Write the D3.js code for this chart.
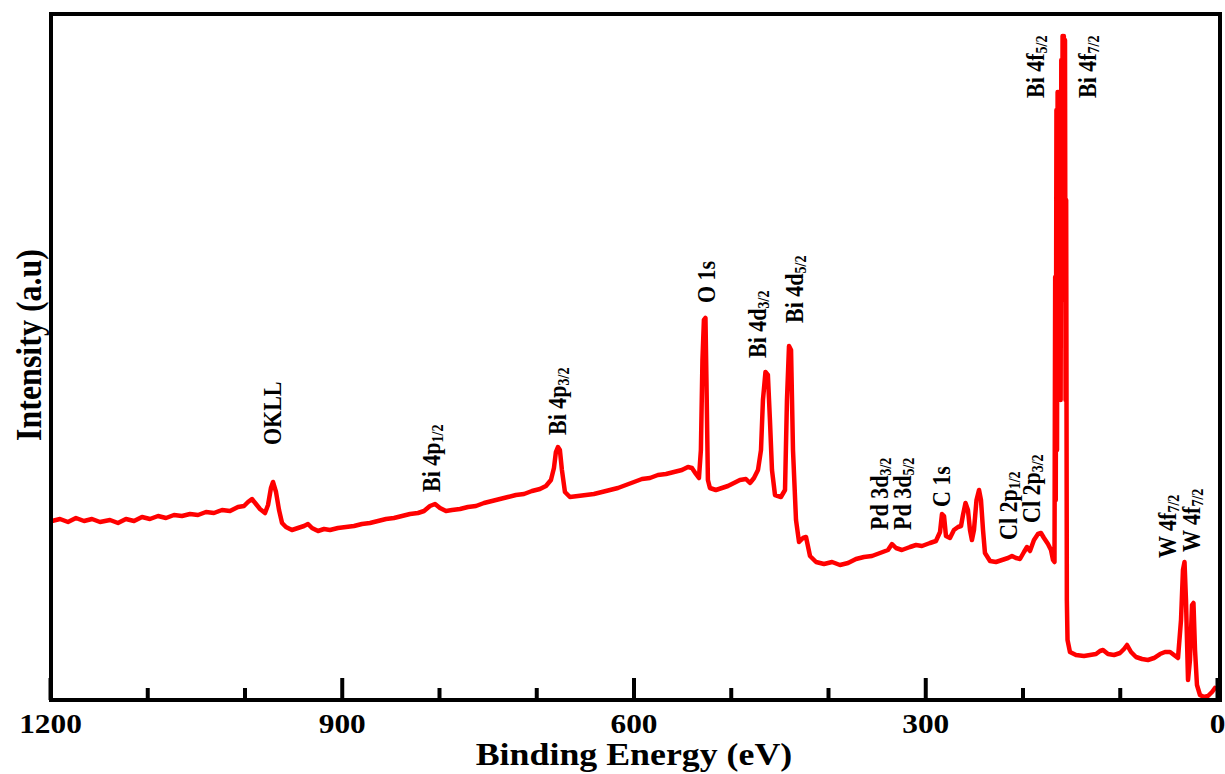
<!DOCTYPE html>
<html><head><meta charset="utf-8">
<script src="https://cdn.jsdelivr.net/npm/d3@7"></script>
<style>body{margin:0;background:#fff}</style>
</head><body><svg id="chart" width="1225" height="774"></svg>
<script>
// Binding energy (eV) and intensity (a.u.)
const bindingEnergy = [1198,1189.7,1181.5,1173.3,1165,1156.8,1148.6,1138.3,1130.1,1121.9,
1113.6,1105.4,1097.2,1088.9,1080.7,1072.5,1064.3,1056,1047.8,1039.6,
1031.4,1023.1,1014.9,1006.7,1000.5,996.4,992.3,988.2,984.1,978.9,
975.8,972.8,970.7,967.6,964.5,961.4,957.4,951.2,945,938.8,
934.7,930.6,924.4,918.2,912.1,903.9,895.6,887.4,879.2,871,
862.7,854.5,846.3,838,829.8,821.6,815.4,809.3,804.1,799,
792.8,786.6,778.4,770.2,762,753.7,745.5,737.3,729.1,720.9,
712.6,704.4,696.2,690,684.9,681.8,679.8,677.7,675.7,673.6,
670.5,665.4,657.1,648.9,640.7,632.4,624.2,616,607.8,599.5,
591.3,583.1,574.9,566.6,558.4,550.2,544,539.9,535.8,532.7,
530.7,529.1,527.6,526,525,523.5,521.4,515.3,509.1,502.9,
496.7,490.6,484.4,480.2,476.1,472,468.9,466.9,464.3,461.8,
459.7,457.6,454.5,448.4,444.2,442.2,440.1,438,436,432.9,
429.8,425.7,422.6,418.5,412.3,404.1,395.8,387.7,379.4,371.2,
363,354.8,346.5,338.3,334.2,330.1,324,315.7,309.5,303.4,
295.1,289,284.8,282.8,280.7,278.7,274.6,270.5,266.3,263.2,
261.2,258.6,256.1,254,252,249.9,247.3,244.7,242.7,240.6,
238.6,233.4,227.3,221.1,214.9,210.8,206.7,202.6,198.5,195.4,
192.3,188.2,184.1,181,177.9,173.8,170.7,168.6,167.1,
166.4,165.8,165.1,164.5,163.9,163.3,162.7,162.1,161.4,160.8,160.1,159.4,158.8,158.2,157.5,156.9,156.3,155.7,155.1,154.4,153.7,
151.2,145,136.8,130.6,124.4,120.3,117.2,112.1,
105.9,99.7,95.6,92.5,88.4,83.3,77.1,71,64.8,58.6,
53.5,48.3,44.2,40.1,37,35,33.4,31.9,29.8,27.8,
25.7,24.2,22.6,20.6,17.5,13.4,9.3,5.1,2.1];
const intensity = [179,181,178,182,179,181,178,180,177,181,
179,183,181,184,182,185,184,186,185,188,
187,190,189,193,194,198,201,196,191,187,
195,212,218,208,190,177,173,170,172,174,
176,172,169,171,170,172,173,174,176,177,
179,181,182,184,186,187,189,194,196,192,
189,190,191,193,194,197,199,201,203,205,
206,209,211,214,220,232,248,253,250,230,
208,203,204,205,206,208,210,212,215,218,
221,222,225,226,228,230,233,232,226,222,
250,340,380,382,320,220,212,210,212,214,
217,220,221,217,222,230,250,300,328,325,
280,230,205,203,210,300,354,350,250,180,
158,162,163,144,138,136,138,135,137,141,
143,144,147,150,156,152,150,153,155,154,
157,159,168,186,184,164,162,170,173,174,
185,197,190,170,160,170,200,210,200,170,
147,139,138,140,142,144,142,141,148,153,
149,160,166,167,162,156,150,140,138,
423,200,590,250,608,350,608,400,608,300,640,400,664,450,664,420,660,300,500,100,60,
48,45,44,45,46,49,50,46,
45,47,51,55,48,43,41,40,42,46,
48,48,45,42,80,130,138,100,20,40,
95,97,50,15,5,3,4,8,12];

const majorTicks = [1200, 900, 600, 300, 0];
const minorTicks = [1100, 1000, 800, 700, 500, 400, 200, 100];

// Peak annotations: main text, subscript, energy of label, intensity level where label starts
const peakText   = ["OKLL","Bi 4p","Bi 4p","O 1s","Bi 4d","Bi 4d","Pd 3d","Pd 3d","C 1s","Cl 2p","Cl 2p","Bi 4f","Bi 4f","W 4f","W 4f"];
const peakSub    = ["","1/2","3/2","","3/2","5/2","3/2","5/2","","1/2","3/2","5/2","7/2","7/2","7/2"];
const peakEnergy = [962.5,799,669.4,516.2,463.8,425.7,338.3,314.6,274.6,205.7,182,177.9,124.4,42.2,17.5];
const peakLevel  = [255,208,265,397,342,377,170,170,193,160,177,602,602,142,148];

const FONT = "'Liberation Serif','Times New Roman',serif";
const SX = 1.12;

const svg = d3.select("#chart");
const x = d3.scaleLinear().domain([1200, 0]).range([50, 1217]);
const y = d3.scaleLinear().domain([0, 686]).range([700, 14]);

// spectrum
const data = d3.zip(bindingEnergy, intensity);
svg.append("path")
  .datum(data)
  .attr("fill", "none")
  .attr("stroke", "#ff0000")
  .attr("stroke-width", 4.5)
  .attr("stroke-linejoin", "round")
  .attr("stroke-linecap", "round")
  .attr("d", d3.line().x(d => x(d[0])).y(d => y(d[1])));

// frame
svg.append("rect")
  .attr("x", 51).attr("y", 14)
  .attr("width", 1169).attr("height", 686)
  .attr("fill", "none").attr("stroke", "#000").attr("stroke-width", 4);

// minor ticks
const minorAxis = svg.append("g").attr("transform", "translate(0,700)")
  .call(d3.axisBottom(x).tickValues(minorTicks).tickSize(-12).tickFormat(""));
minorAxis.select(".domain").remove();
minorAxis.selectAll("line").attr("stroke", "#000").attr("stroke-width", 4);

// major ticks with labels
const majorAxis = svg.append("g").attr("transform", "translate(0,700)")
  .call(d3.axisBottom(x).tickValues(majorTicks).tickSize(-22).tickPadding(13).tickFormat(d3.format("d")));
majorAxis.select(".domain").remove();
majorAxis.selectAll("line").attr("stroke", "#000").attr("stroke-width", 4);
majorAxis.selectAll("text")
  .attr("font-family", FONT).attr("font-weight", "bold").attr("font-size", 28)
  .attr("fill", "#000")
  .attr("transform", `scale(${SX},1)`);

// axis titles
svg.append("text")
  .attr("transform", `translate(634,765) scale(${SX},1)`)
  .attr("text-anchor", "middle")
  .attr("font-family", FONT).attr("font-weight", "bold").attr("font-size", 32)
  .text("Binding Energy (eV)");
svg.append("text")
  .attr("transform", `translate(41,345) scale(${SX},1) rotate(-90)`)
  .attr("text-anchor", "middle")
  .attr("font-family", FONT).attr("font-weight", "bold").attr("font-size", 32)
  .text("Intensity (a.u)");

// peak labels
peakText.forEach((t, i) => {
  const txt = svg.append("text")
    .attr("transform", `translate(${x(peakEnergy[i])},${y(peakLevel[i])}) scale(${SX},1) rotate(-90)`)
    .attr("font-family", FONT).attr("font-weight", "bold").attr("font-size", 22)
    .attr("fill", "#000");
  txt.append("tspan").text(t);
  if (peakSub[i]) txt.append("tspan").attr("font-size", 14).attr("dy", 3).text(peakSub[i]);
});
</script>
</body></html>
